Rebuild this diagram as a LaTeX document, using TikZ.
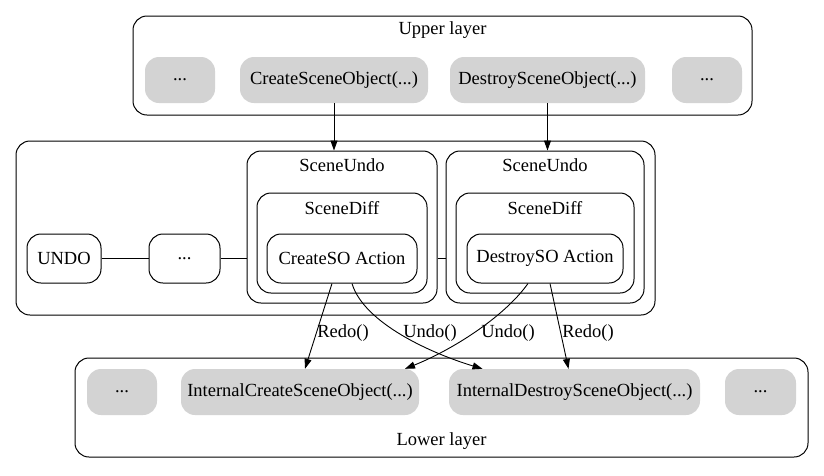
\documentclass[tikz,border=0pt]{standalone}
\usepackage{fontspec}
\setmainfont{Liberation Serif}
\usetikzlibrary{arrows.meta, positioning, calc}
\definecolor{layergray}{RGB}{211, 211, 211}

\tikzset{
  cluster/.style={draw, line width=1pt, rounded corners=14pt, inner sep=0pt},
  callbox/.style={fill=layergray, rounded corners=14pt, minimum height=46pt, inner sep=0pt},
  actbox/.style={draw, line width=1pt, rounded corners=14pt, minimum height=49pt, inner sep=0pt},
  lbl/.style={inner sep=1pt},
  flow/.style={line width=0.9pt, -{Triangle[length=10pt,width=7pt]}},
}

\begin{document}
\begin{tikzpicture}[x=1pt, y=-1pt, font=\fontsize{18.5}{22}\selectfont]
  \useasboundingbox (0,0) rectangle (824,475);

  % upper layer
  \node[cluster, minimum width=619pt, minimum height=99pt] (upper) at (442.5,65.5) {};
  \node[lbl] at ([yshift=-15pt]upper.north) {Upper layer};
  \node[callbox, minimum width=70pt] (upDotsL) at (180,80) {...};
  \node[callbox, minimum width=188pt] (cso) at (334,80) {CreateSceneObject(...)};
  \node[callbox, minimum width=195pt] (dso) at (547.5,80) {DestroySceneObject(...)};
  \node[callbox, minimum width=70pt] (upDotsR) at (707,80) {...};

  % undo stack
  \node[cluster, minimum width=639pt, minimum height=174pt] (stack) at (335.5,228) {};
  \node[actbox, minimum width=74pt] (undo) at (64,258.5) {UNDO};
  \node[actbox, minimum width=71pt] (midDots) at (184.5,258.5) {...};

  \node[cluster, minimum width=190pt, minimum height=152pt] (undoA) at (342,227) {};
  \node[lbl] at ([yshift=-15pt]undoA.north) {SceneUndo};
  \node[cluster, minimum width=170pt, minimum height=100pt] (diffA) at (342,243) {};
  \node[lbl] at ([yshift=-16pt]diffA.north) {SceneDiff};
  \node[actbox, minimum width=150pt] (createAct) at (342,258.5) {CreateSO Action};

  \node[cluster, minimum width=198pt, minimum height=152pt] (undoB) at (545,227) {};
  \node[lbl] at ([yshift=-15pt]undoB.north) {SceneUndo};
  \node[cluster, minimum width=178pt, minimum height=100pt] (diffB) at (545,243) {};
  \node[lbl] at ([yshift=-16pt]diffB.north) {SceneDiff};
  \node[actbox, minimum width=156pt] (destroyAct) at (545,258.5) {DestroySO Action};

  \draw[line width=0.9pt] (undo) -- (midDots);
  \draw[line width=0.9pt] (midDots.east) -- (midDots.east -| undoA.west);
  \draw[line width=0.9pt] (undoA.east |- midDots.east) -- (undoB.west |- midDots.east);

  % lower layer
  \node[cluster, minimum width=733pt, minimum height=99pt] (lower) at (441.5,407.5) {};
  \node[lbl] at ([yshift=16pt]lower.south) {Lower layer};
  \node[callbox, minimum width=70pt] (lowDotsL) at (122,392) {...};
  \node[callbox, minimum width=238pt] (icso) at (300,392) {InternalCreateSceneObject(...)};
  \node[callbox, minimum width=251pt] (idso) at (574.5,392) {InternalDestroySceneObject(...)};
  \node[callbox, minimum width=71pt] (lowDotsR) at (760.5,392) {...};

  % calls
  \draw[flow] (cso.south) -- (cso.south |- undoA.north);
  \draw[flow] (dso.south) -- (dso.south |- undoB.north);

  \draw[flow] ([xshift=-10pt]createAct.south) -- ([xshift=5pt]icso.north);
  \draw[flow] ([xshift=10pt]createAct.south) .. controls +(12,40) and +(-50,-15) .. ([xshift=-92pt]idso.north);
  \draw[flow] ([xshift=-17pt]destroyAct.south) .. controls +(-25,35) and +(45,-18) .. ([xshift=105pt]icso.north);
  \draw[flow] ([xshift=5pt]destroyAct.south) -- ([xshift=-6pt]idso.north);

  \node[lbl] (redoA) at (343,333) {Redo()};
  \node[lbl] (undoLblA) at (430,333) {Undo()};
  \node[lbl] (undoLblB) at (508,333) {Undo()};
  \node[lbl] (redoB) at (588,333) {Redo()};
\end{tikzpicture}
\end{document}
